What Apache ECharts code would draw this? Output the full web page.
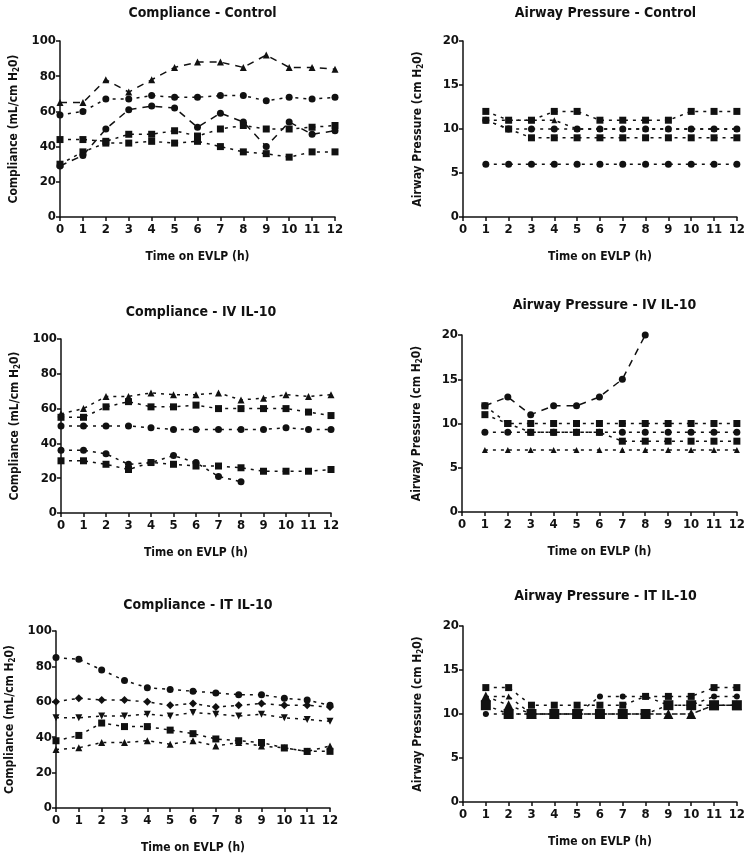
<!DOCTYPE html>
<html>
<head>
<meta charset="utf-8">
<script src="https://cdn.jsdelivr.net/npm/echarts@6/dist/echarts.min.js"></script>
<style>
  html, body { margin: 0; padding: 0; background: #fff; }
  #chart { width: 748px; height: 855px; }
</style>
</head>
<body>
<div id="chart"></div>
<script>
// hours on EVLP
const hours = [0, 1, 2, 3, 4, 5, 6, 7, 8, 9, 10, 11, 12];
const xTicks = [0, 1, 2, 3, 4, 5, 6, 7, 8, 9, 10, 11, 12];

// Compliance - Control
const compCtrlTri   = [65, 65, 78, 71, 78, 85, 88, 88, 85, 92, 85, 85, 84];
const compCtrlCirA  = [58, 60, 67, 67, 69, 68, 68, 69, 69, 66, 68, 67, 68];
const compCtrlCirB  = [29, 35, 50, 61, 63, 62, 51, 59, 54, 40, 54, 47, 49];
const compCtrlSqA   = [44, 44, 43, 47, 47, 49, 46, 50, 52, 50, 50, 51, 52];
const compCtrlSqB   = [30, 37, 42, 42, 43, 42, 43, 40, 37, 36, 34, 37, 37];

// Airway Pressure - Control (starts at 1 h)
const pawCtrlSqA  = [null, 12, 11, 11, 12, 12, 11, 11, 11, 11, 12, 12, 12];
const pawCtrlTri  = [null, 11, 11, 11, 11, 10, 10, 10, 10, 10, 10, 10, 10];
const pawCtrlCirA = [null, 11, 10, 10, 10, 10, 10, 10, 10, 10, 10, 10, 10];
const pawCtrlSqB  = [null, 11, 10, 9, 9, 9, 9, 9, 9, 9, 9, 9, 9];
const pawCtrlCirB = [null, 6, 6, 6, 6, 6, 6, 6, 6, 6, 6, 6, 6];

// Compliance - IV IL-10
const compIvTri  = [57, 60, 67, 67, 69, 68, 68, 69, 65, 66, 68, 67, 68];
const compIvSqA  = [55, 55, 61, 64, 61, 61, 62, 60, 60, 60, 60, 58, 56];
const compIvCirA = [50, 50, 50, 50, 49, 48, 48, 48, 48, 48, 49, 48, 48];
const compIvCirB = [36, 36, 34, 28, 29, 33, 29, 21, 18, null, null, null, null];
const compIvSqB  = [30, 30, 28, 25, 29, 28, 27, 27, 26, 24, 24, 24, 25];

// Airway Pressure - IV IL-10
const pawIvCirA = [null, 12, 13, 11, 12, 12, 13, 15, 20, null, null, null, null];
const pawIvSqA  = [null, 12, 10, 10, 10, 10, 10, 10, 10, 10, 10, 10, 10];
const pawIvSqB  = [null, 11, 10, 9, 9, 9, 9, 8, 8, 8, 8, 8, 8];
const pawIvCirB = [null, 9, 9, 9, 9, 9, 9, 9, 9, 9, 9, 9, 9];
const pawIvTri  = [null, 7, 7, 7, 7, 7, 7, 7, 7, 7, 7, 7, 7];

// Compliance - IT IL-10
const compItCir  = [85, 84, 78, 72, 68, 67, 66, 65, 64, 64, 62, 61, 58];
const compItDia  = [60, 62, 61, 61, 60, 58, 59, 57, 58, 59, 58, 58, 57];
const compItInv  = [51, 51, 52, 52, 53, 52, 54, 53, 52, 53, 51, 50, 49];
const compItSq   = [38, 41, 48, 46, 46, 44, 42, 39, 38, 37, 34, 32, 32];
const compItTri  = [33, 34, 37, 37, 38, 36, 38, 35, 37, 35, 34, 32, 35];

// Airway Pressure - IT IL-10
const pawItBigTri = [null, 12, 11, 10, 10, 10, 10, 10, 10, 10, 10, 11, 11];
const pawItTri    = [null, 12, 12, 10, 10, 10, 10, 10, 10, 10, 10, 11, 11];
const pawItCir    = [null, 10, 10, 10, 10, 10, 12, 12, 12, 11, 11, 12, 12];
const pawItBigSq  = [null, 11, 10, 10, 10, 10, 10, 10, 10, 11, 11, 11, 11];
const pawItSq     = [null, 13, 13, 11, 11, 11, 11, 11, 12, 12, 12, 13, 13];

const FONT = '"DejaVu Sans Condensed", "Liberation Sans Narrow", "Roboto", sans-serif';
const SHORT = [3, 5];
const LONG = [7, 6];

const panels = [
  { title: 'Compliance - Control', grid: { left: 60, top: 41, width: 275, height: 176 }, titleTop: 1, yMax: 100, yStep: 20, yName: 'Compliance (mL/cm H{s|2}0)' },
  { title: 'Airway Pressure - Control', grid: { left: 463, top: 41, width: 275, height: 176 }, titleTop: 1, yMax: 20, yStep: 5, yName: 'Airway Pressure (cm H{s|2}0)' },
  { title: 'Compliance - IV IL-10', grid: { left: 61, top: 339, width: 270, height: 174 }, titleTop: 300, yMax: 100, yStep: 20, yName: 'Compliance (mL/cm H{s|2}0)' },
  { title: 'Airway Pressure - IV IL-10', grid: { left: 462, top: 335, width: 275, height: 177 }, titleTop: 293, yMax: 20, yStep: 5, yName: 'Airway Pressure (cm H{s|2}0)' },
  { title: 'Compliance - IT IL-10', grid: { left: 56, top: 631, width: 274, height: 177 }, titleTop: 593, yMax: 100, yStep: 20, yName: 'Compliance (mL/cm H{s|2}0)' },
  { title: 'Airway Pressure - IT IL-10', grid: { left: 463, top: 626, width: 275, height: 176 }, titleTop: 584, yMax: 20, yStep: 5, yName: 'Airway Pressure (cm H{s|2}0)' }
];

// series per panel: [values, symbol, size, dash]
const seriesDefs = [
  [[compCtrlSqB, 'rect', 7, SHORT], [compCtrlSqA, 'rect', 7, SHORT], [compCtrlCirB, 'circle', 7, LONG], [compCtrlCirA, 'circle', 7, SHORT], [compCtrlTri, 'triangle', 7, LONG]],
  [[pawCtrlCirB, 'circle', 7, SHORT], [pawCtrlTri, 'triangle', 6, SHORT], [pawCtrlSqB, 'rect', 7, SHORT], [pawCtrlCirA, 'circle', 7, SHORT], [pawCtrlSqA, 'rect', 7, SHORT]],
  [[compIvTri, 'triangle', 7, SHORT], [compIvSqA, 'rect', 7, SHORT], [compIvCirA, 'circle', 7, SHORT], [compIvCirB, 'circle', 7, SHORT], [compIvSqB, 'rect', 7, SHORT]],
  [[pawIvTri, 'triangle', 6, SHORT], [pawIvCirB, 'circle', 7, SHORT], [pawIvSqB, 'rect', 7, SHORT], [pawIvSqA, 'rect', 7, SHORT], [pawIvCirA, 'circle', 7, LONG]],
  [[compItTri, 'triangle', 7, SHORT], [compItSq, 'rect', 7, SHORT], [compItInv, 'path://M0,0 L10,0 L5,9 Z', 7, SHORT], [compItDia, 'diamond', 8, SHORT], [compItCir, 'circle', 7, SHORT]],
  [[pawItTri, 'triangle', 6, SHORT], [pawItBigTri, 'triangle', 10, SHORT], [pawItCir, 'circle', 6, SHORT], [pawItBigSq, 'rect', 10, SHORT], [pawItSq, 'rect', 7, SHORT]]
];

const option = {
  backgroundColor: '#fff',
  animation: false,
  title: [],
  grid: [],
  xAxis: [],
  yAxis: [],
  series: []
};

panels.forEach((p, i) => {
  option.title.push({
    text: p.title,
    left: p.grid.left + p.grid.width / 2,
    textAlign: 'center',
    top: p.titleTop,
    textStyle: { fontFamily: FONT, fontWeight: 'bold', fontSize: 14, color: '#111' }
  });
  option.grid.push(p.grid);
  option.xAxis.push({
    type: 'value',
    gridIndex: i,
    min: 0,
    max: 12,
    interval: 1,
    name: 'Time on EVLP (h)',
    nameLocation: 'middle',
    nameGap: 34,
    nameTextStyle: { fontFamily: FONT, fontWeight: 'bold', fontSize: 12, color: '#111' },
    axisLine: { onZero: false, lineStyle: { color: '#111', width: 1.5 } },
    axisTick: { show: true, length: 4, lineStyle: { color: '#111', width: 1.5 } },
    axisLabel: { fontFamily: FONT, fontWeight: 'bold', fontSize: 13, color: '#111', margin: 6,
      formatter: v => xTicks.indexOf(v) >= 0 ? String(v) : '' },
    splitLine: { show: false }
  });
  option.yAxis.push({
    type: 'value',
    gridIndex: i,
    min: 0,
    max: p.yMax,
    interval: p.yStep,
    name: p.yName,
    nameLocation: 'middle',
    nameGap: p.yMax === 100 ? 39 : 38,
    nameTextStyle: { fontFamily: FONT, fontWeight: 'bold', fontSize: 12, color: '#111',
      rich: { s: { fontFamily: FONT, fontWeight: 'bold', fontSize: 8, color: '#111', verticalAlign: 'bottom', padding: [6, 0, 0, 0] } } },
    axisLine: { show: true, lineStyle: { color: '#111', width: 1.5 } },
    axisTick: { show: true, length: 4, lineStyle: { color: '#111', width: 1.5 } },
    axisLabel: { fontFamily: FONT, fontWeight: 'bold', fontSize: 13, color: '#111', margin: 4 },
    splitLine: { show: false }
  });
  seriesDefs[i].forEach(d => {
    option.series.push({
      type: 'line',
      xAxisIndex: i,
      yAxisIndex: i,
      data: hours.map((h, k) => [h, d[0][k]]),
      connectNulls: false,
      symbol: d[1],
      symbolSize: d[2],
      showAllSymbol: true,
      itemStyle: { color: '#111' },
      lineStyle: { color: '#111', width: 1.5, type: d[3] }
    });
  });
});

const chart = echarts.init(document.getElementById('chart'), null, { renderer: 'canvas' });
chart.setOption(option);
</script>
</body>
</html>
